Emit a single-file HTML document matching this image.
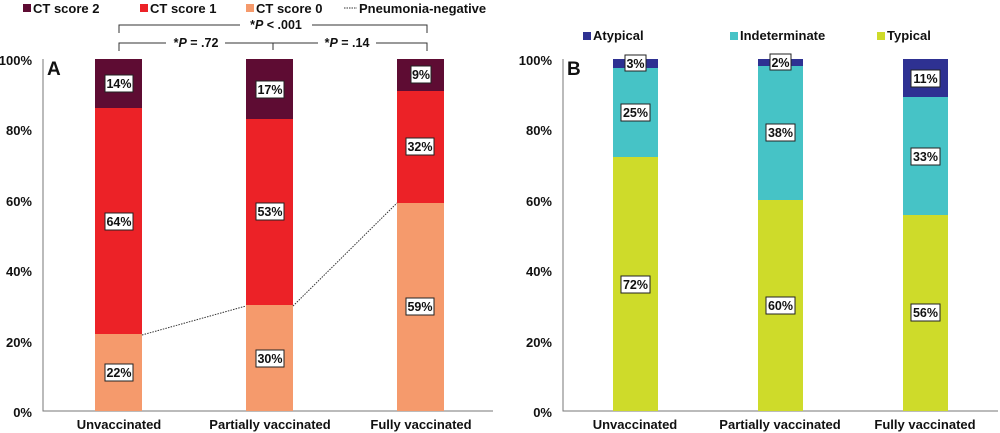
<!DOCTYPE html>
<html><head><meta charset="utf-8"><style>
html,body{margin:0;padding:0;background:#fff}
svg{display:block}
text{font-family:"Liberation Sans",Arial,sans-serif;font-weight:bold;fill:#111}
.t{font-size:13px}
.l{font-size:12.5px}
</style></head><body>
<svg width="1000" height="433" viewBox="0 0 1000 433">
<rect x="23" y="4" width="8" height="8" fill="#5e0c33"/><text x="33" y="13" class="t">CT score 2</text>
<rect x="140" y="4" width="8" height="8" fill="#ec2227"/><text x="150" y="13" class="t">CT score 1</text>
<rect x="246" y="4" width="8" height="8" fill="#f59a6c"/><text x="256" y="13" class="t">CT score 0</text>
<line x1="344" y1="8" x2="357" y2="8" stroke="#333" stroke-dasharray="1.5,1"/><text x="359" y="13" class="t">Pneumonia-negative</text>
<path d="M119,33 V25 H240 M312,25 H427 V33" fill="none" stroke="#333" stroke-width="1"/>
<text x="276" y="29" class="l" text-anchor="middle">*<tspan font-style="italic">P</tspan> &lt; .001</text>
<path d="M119,51 V43 H166 M225,43 H318 M376,43 H427 V51 M273,43 V50" fill="none" stroke="#333" stroke-width="1"/>
<text x="196" y="47" class="l" text-anchor="middle">*<tspan font-style="italic">P</tspan> = .72</text>
<text x="347" y="47" class="l" text-anchor="middle">*<tspan font-style="italic">P</tspan> = .14</text>
<path d="M43,59 V411 H493" fill="none" stroke="#777" stroke-width="1"/>
<g class="t" text-anchor="end">
<text x="32" y="65">100%</text><text x="32" y="135">80%</text><text x="32" y="206">60%</text>
<text x="32" y="276">40%</text><text x="32" y="347">20%</text><text x="32" y="417">0%</text></g>
<text x="47" y="75" style="font-size:19px">A</text>
<rect x="95" y="334" width="47" height="77" fill="#f59a6c"/><rect x="95" y="108" width="47" height="226" fill="#ec2227"/><rect x="95" y="59" width="47" height="49" fill="#5e0c33"/>
<rect x="246" y="305" width="47" height="106" fill="#f59a6c"/><rect x="246" y="119" width="47" height="186" fill="#ec2227"/><rect x="246" y="59" width="47" height="60" fill="#5e0c33"/>
<rect x="397" y="203" width="47" height="208" fill="#f59a6c"/><rect x="397" y="91" width="47" height="112" fill="#ec2227"/><rect x="397" y="59" width="47" height="32" fill="#5e0c33"/>
<path d="M142,335 L246,306 M293,306 L397,203" stroke="#333" stroke-dasharray="1.5,1.2" fill="none"/>
<g class="l" text-anchor="middle">
<g fill="#fff" stroke="#222" stroke-width="1">
<rect x="105" y="75" width="28" height="17"/><rect x="105" y="213" width="28" height="17"/><rect x="105" y="364" width="28" height="17"/>
<rect x="256" y="81" width="28" height="17"/><rect x="256" y="203" width="28" height="17"/><rect x="256" y="350" width="28" height="17"/>
<rect x="411" y="66" width="20" height="17"/><rect x="406" y="138" width="28" height="17"/><rect x="406" y="298" width="28" height="17"/></g>
<text x="119" y="88">14%</text><text x="119" y="226">64%</text><text x="119" y="377">22%</text>
<text x="270" y="94">17%</text><text x="270" y="216">53%</text><text x="270" y="363">30%</text>
<text x="421" y="79">9%</text><text x="420" y="151">32%</text><text x="420" y="311">59%</text>
</g>
<g class="t" text-anchor="middle"><text x="119" y="429">Unvaccinated</text><text x="270" y="429">Partially vaccinated</text><text x="421" y="429">Fully vaccinated</text></g>
<rect x="583" y="32" width="8" height="8" fill="#2e3192"/><text x="593" y="40" class="t">Atypical</text>
<rect x="730" y="32" width="8" height="8" fill="#46c3c6"/><text x="740" y="40" class="t">Indeterminate</text>
<rect x="877" y="32" width="8" height="8" fill="#cedb2a"/><text x="887" y="40" class="t">Typical</text>
<path d="M563,59 V411 H998" fill="none" stroke="#777" stroke-width="1"/>
<g class="t" text-anchor="end">
<text x="552" y="65">100%</text><text x="552" y="135">80%</text><text x="552" y="206">60%</text>
<text x="552" y="276">40%</text><text x="552" y="347">20%</text><text x="552" y="417">0%</text></g>
<text x="567" y="75" style="font-size:19px">B</text>
<rect x="613" y="157" width="45" height="254" fill="#cedb2a"/><rect x="613" y="68" width="45" height="89" fill="#46c3c6"/><rect x="613" y="59" width="45" height="9" fill="#2e3192"/>
<rect x="758" y="200" width="45" height="211" fill="#cedb2a"/><rect x="758" y="66" width="45" height="134" fill="#46c3c6"/><rect x="758" y="59" width="45" height="7" fill="#2e3192"/>
<rect x="903" y="215" width="45" height="196" fill="#cedb2a"/><rect x="903" y="97" width="45" height="118" fill="#46c3c6"/><rect x="903" y="59" width="45" height="38" fill="#2e3192"/>
<g class="l" text-anchor="middle">
<g fill="#fff" stroke="#222" stroke-width="1">
<rect x="625" y="55" width="21" height="16"/><rect x="621" y="104" width="29" height="17"/><rect x="621" y="276" width="29" height="17"/>
<rect x="770" y="54" width="21" height="16"/><rect x="766" y="124" width="29" height="17"/><rect x="766" y="297" width="29" height="17"/>
<rect x="911" y="70" width="29" height="17"/><rect x="911" y="148" width="29" height="17"/><rect x="911" y="304" width="29" height="17"/></g>
<text x="635.5" y="68">3%</text><text x="635.5" y="117">25%</text><text x="635.5" y="289">72%</text>
<text x="780.5" y="67">2%</text><text x="780.5" y="137">38%</text><text x="780.5" y="310">60%</text>
<text x="925.5" y="83">11%</text><text x="925.5" y="161">33%</text><text x="925.5" y="317">56%</text>
</g>
<g class="t" text-anchor="middle"><text x="635" y="429">Unvaccinated</text><text x="780" y="429">Partially vaccinated</text><text x="925" y="429">Fully vaccinated</text></g>
</svg>
</body></html>
